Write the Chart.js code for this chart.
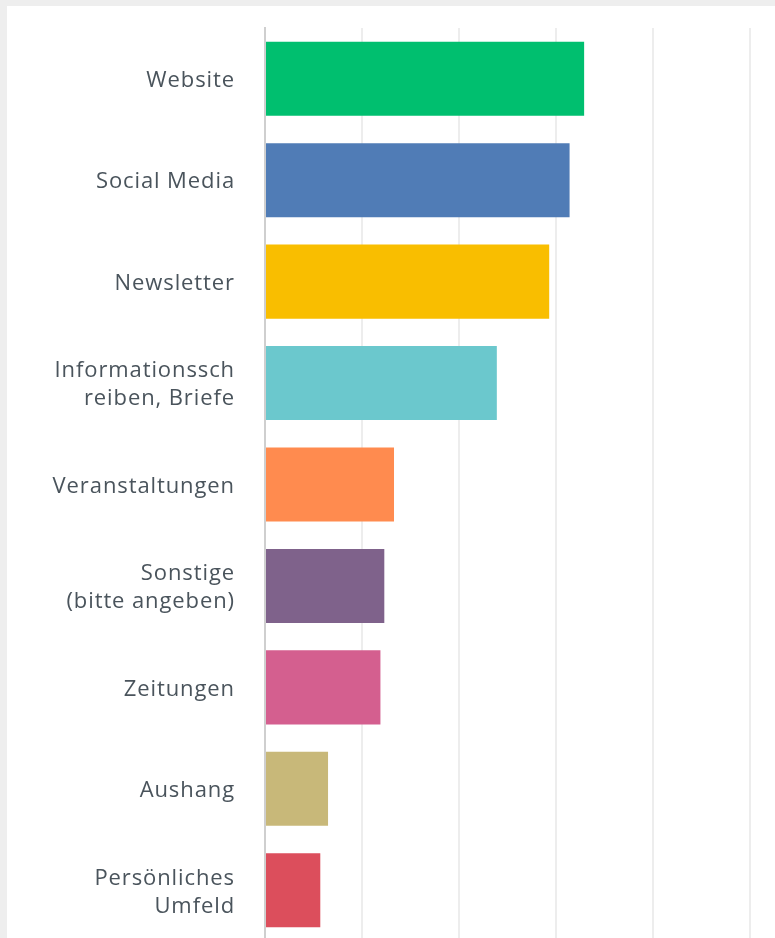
<!DOCTYPE html>
<html>
<head>
<meta charset="utf-8">
<script src="https://cdn.jsdelivr.net/npm/chart.js@4"></script>
<style>
  html, body { margin: 0; padding: 0; background: #eeeeee; overflow: hidden; width: 775px; height: 938px; }
  #panel { position: absolute; left: 7px; top: 6px; width: 850px; height: 960px; background: #ffffff; }
</style>
</head>
<body>
<div id="panel"><canvas id="answers" width="850" height="960"></canvas></div>
<script>
'use strict';

// Antworten in Prozent
const categories = [
    'Website',
    'Social Media',
    'Newsletter',
    ['Informationssch', 'reiben, Briefe'],
    'Veranstaltungen',
    ['Sonstige', '(bitte angeben)'],
    'Zeitungen',
    'Aushang',
    ['Persönliches', 'Umfeld']
];
const percentages = [32.9, 31.4, 29.3, 23.9, 13.3, 12.3, 11.9, 6.5, 5.7];
const barColors = ['#00bf6f', '#507cb6', '#f9be00', '#6bc8cd', '#ff8b4f', '#7f628b', '#d45f8f', '#c8b879', '#dc4e5c'];
const xTicks = [0, 10, 20, 30, 40, 50, 60];

// etwas Laufweite fuer die Beschriftung
const spacing = {
    id: 'spacing',
    beforeLayout: (chart) => { chart.ctx.letterSpacing = '0.9px' },
    beforeDraw: (chart) => { chart.ctx.letterSpacing = '0.9px' }
};

new Chart('answers', {
    type: 'bar',
    data: {
        labels: categories,
        datasets: [{
            data: percentages,
            backgroundColor: barColors,
            barPercentage: 0.73,
            categoryPercentage: 1.0
        }]
    },
    options: {
        indexAxis: 'y',
        responsive: false,
        animation: false,
        layout: { padding: { top: 22, right: 10, bottom: 25, left: 0 } },
        plugins: {
            legend: { display: false },
            tooltip: { enabled: false }
        },
        scales: {
            x: {
                min: xTicks[0],
                max: xTicks[xTicks.length - 1],
                afterBuildTicks: (scale) => {
                    scale.ticks = xTicks.map(v => ({ value: v }))
                },
                ticks: { display: false },
                grid: { color: '#ededed', lineWidth: 2, drawTicks: false },
                border: { display: false }
            },
            y: {
                afterFit: (scale) => {
                    scale.width = 258
                    scale.paddingTop = 0
                    scale.paddingBottom = 0
                },
                ticks: {
                    color: '#4a545c',
                    padding: 30,
                    labelOffset: 2,
                    font: { family: 'Open Sans', size: 22, lineHeight: 1.27 }
                },
                grid: { display: false, drawTicks: false },
                border: { display: true, color: '#cfcfcf', width: 2 }
            }
        }
    },
    plugins: [spacing]
});
</script>
</body>
</html>
